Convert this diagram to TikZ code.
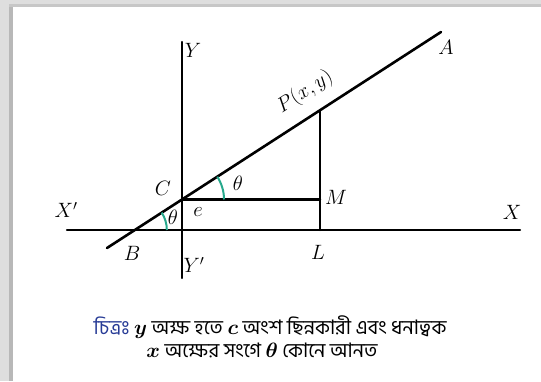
\documentclass[tikz,border=0pt]{standalone}
\usepackage{fontspec}
\usepackage{amsmath}
\newfontfamily\bnfont[Script=Bengali]{Hind Siliguri}
\definecolor{arcgreen}{RGB}{38,168,140}
\definecolor{capblue}{RGB}{40,60,150}

\begin{document}
\begin{tikzpicture}[x=1pt,y=1pt,line cap=round,line join=round,
  lbl/.style={font=\fontsize{20}{24}\selectfont,inner sep=1pt},
  ang/.style={line width=2pt,draw=arcgreen,line cap=butt},
  captxt/.style={font=\bnfont\fontsize{20}{24}\selectfont,inner sep=0pt}]
\useasboundingbox (0,0) rectangle (541,381);
\fill[black!13] (0,0) rectangle (541,381);
\fill[black!28] (9,0) rectangle (13,376);
\fill[black!22] (9,374) rectangle (541,377);
\fill[white] (13,0) rectangle (541,374);
\coordinate (Ytop) at (182,339);
\coordinate (Ybot) at (182,103);
\coordinate (Xl) at (67,151);
\coordinate (Xr) at (520,151);
\coordinate (Bend) at (107,133);
\coordinate (A) at (441,349);
\coordinate (C) at (intersection of Bend--A and Ytop--Ybot);
\coordinate (B) at (intersection of Bend--A and Xl--Xr);
\coordinate (P) at (intersection of Bend--A and 320,0--320,381);
\coordinate (L) at (P |- B);
\coordinate (M) at (P |- C);
% axes
\draw[line width=2.4pt] (Xl) -- (Xr);
\draw[line width=2.4pt] (Ytop) -- (Ybot);
% the line and the perpendiculars
\draw[line width=2.6pt] (Bend) -- (A);
\draw[line width=2.4pt] (C) -- (M);
\draw[line width=2.4pt] (P) -- (L);
% angles
\draw[ang] (C) ++(0:42) arc[start angle=0,end angle=32.9,radius=42];
\draw[ang] (B) ++(0:32) arc[start angle=0,end angle=32.9,radius=32];
% labels
\node[lbl] (lY) at (193,331) {$Y$};
\node[lbl] (lYp) at (194,116) {$Y'$};
\node[lbl] (lX) at (512,169) {$X$};
\node[lbl] (lXp) at (66,171) {$X'$};
\node[lbl] (lA) at (446,334) {$A$};
\node[lbl,rotate=32.9] (lP) at (305,289) {$P(x,y)$};
\node[lbl] (lC) at (163,193) {$C$};
\node[lbl] (lM) at (336,184) {$M$};
\node[lbl] (lL) at (318,129) {$L$};
\node[lbl] (lB) at (132,128) {$B$};
\node[lbl] (lth1) at (238,198) {$\theta$};
\node[lbl] (lth2) at (173,164) {$\theta$};
\node[lbl] (le) at (198,169) {$e$};
% caption
\node[captxt] (cap1) at (270,54) {\textcolor{capblue}{চিত্রঃ} {\boldmath$y$} অক্ষ হতে {\boldmath$c$} অংশ ছিন্নকারী এবং ধনাত্বক};
\node[captxt] (cap2) at (262,31) {{\boldmath$x$} অক্ষের সংগে {\boldmath$\theta$} কোনে আনত};
\end{tikzpicture}
\end{document}
